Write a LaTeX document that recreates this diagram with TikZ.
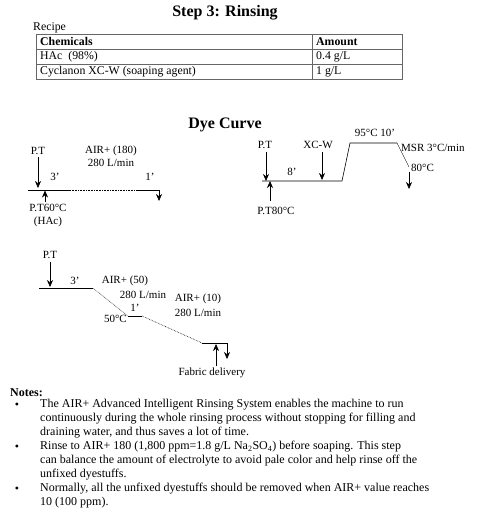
\documentclass[tikz,border=0pt]{standalone}
\usepackage{fontspec}
\setmainfont{Liberation Serif}
\usetikzlibrary{arrows.meta}
\begin{document}
\begin{tikzpicture}[x=1pt,y=-1pt,
  lbl/.style={inner sep=0pt,font=\fontsize{11}{12}\selectfont},
  cell/.style={inner sep=0pt,anchor=west,font=\fontsize{11.8}{12}\selectfont},
  arr/.style={-{Stealth[length=7pt,width=6pt]},line width=0.6pt},
  crv/.style={line width=0.6pt},
  dcrv/.style={line width=0.6pt,densely dotted},
  tline/.style={draw=black!60,line width=0.6pt},
  body/.style={inner sep=0pt,anchor=north west,align=left,font=\fontsize{12}{14}\selectfont},
  bul/.style={inner sep=0pt,font=\fontsize{12}{14}\selectfont}
]
\useasboundingbox (0,0) rectangle (480,527);
% title
\node[inner sep=0pt,font=\fontsize{16}{18}\bfseries] (title) at (225,13) {Step 3: Rinsing};
\node[lbl,anchor=west,font=\fontsize{11.8}{12}\selectfont] (recipe) at (33,28) {Recipe};
% table
\draw[tline] (36,34) rectangle (402,79);
\draw[tline] (36,49) -- (402,49);
\draw[tline] (36,64) -- (402,64);
\draw[tline] (312,34) -- (312,79);
\node[cell,font=\fontsize{11.8}{12}\bfseries] (h1) at (40,41.5) {Chemicals};
\node[cell,font=\fontsize{11.8}{12}\bfseries] (h2) at (316,41.5) {Amount};
\node[cell] (c1) at (40,56.5) {HAc\ \ (98\%)};
\node[cell] (a1) at (316,56.5) {0.4 g/L};
\node[cell] (c2) at (40,71.5) {Cyclanon XC-W (soaping agent)};
\node[cell] (a2) at (316,71.5) {1 g/L};
% Dye curve title
\node[inner sep=0pt,font=\fontsize{16}{18}\bfseries] (dct) at (225,125) {Dye Curve};

% ---- curve 1
\coordinate (p1) at (28,190);
\coordinate (p2) at (70,190);
\coordinate (p3) at (137,190);
\coordinate (p4) at (159,190);
\draw[crv] (p1) -- (p2);
\draw[dcrv] (p2) -- (p3);
\draw[crv] (p3) -- (p4);
\node[lbl] (pt1) at (38,151) {P.T};
\coordinate (pt1e) at (38,188);
\draw[arr] (38,157) -- (pt1e);
\node[lbl] (m3a) at (55,177) {3'};
\node[lbl] (p60) at (48,208) {P.T60°C};
\node[lbl] (hac) at (48,222) {(HAc)};
\coordinate (up1e) at (45,190.5);
\draw[arr] (45,202) -- (up1e);
\node[lbl] (air180) at (111,151) {AIR+ (180)};
\node[lbl] (lm1) at (111,163) {280 L/min};
\node[lbl] (m1a) at (150,177) {1'};
\coordinate (d1e) at (159,201);
\draw[arr] (p4) -- (d1e);

% ---- curve 2
\coordinate (q1) at (262,181);
\coordinate (q2) at (342,181);
\coordinate (q3) at (350,143);
\coordinate (q4) at (397,143);
\coordinate (q5) at (409,167);
\draw[crv] (q1) -- (q2) -- (q3) -- (q4);
\draw[line width=0.4pt] (q4) -- (q5);
\node[lbl] (pt2) at (265,145) {P.T};
\coordinate (pt2e) at (266,181);
\draw[arr] (266,152) -- (pt2e);
\coordinate (up2e) at (270,181);
\draw[arr] (270,201) -- (up2e);
\node[lbl] (p80) at (276,211) {P.T80°C};
\node[lbl] (m8) at (292,172) {8'};
\node[lbl] (xcw) at (318,145) {XC-W};
\coordinate (xcwe) at (322,180);
\draw[arr] (322,152) -- (xcwe);
\node[lbl] (t95) at (375,133) {95°C 10'};
\node[lbl,anchor=west] (msr) at (401,148) {MSR 3°C/min};
\node[lbl,anchor=west] (t80) at (411,168) {80°C};
\coordinate (d2s) at (409,172);
\coordinate (d2e) at (409,189);
\draw[arr] (d2s) -- (d2e);

% ---- curve 3
\coordinate (r1) at (39,288);
\coordinate (r2) at (93,288);
\coordinate (r3) at (128,316);
\coordinate (r4) at (142,316);
\coordinate (r5) at (202,343);
\coordinate (r6) at (227,343);
\coordinate (r7) at (227,359);
\draw[crv] (r1) -- (r2);
\draw[dcrv] (r2) -- (r3);
\draw[crv] (r3) -- (r4);
\draw[dcrv] (r4) -- (r5);
\draw[crv] (r5) -- (r6);
\draw[arr] (r6) -- (r7);
\node[lbl] (pt3) at (50,255) {P.T};
\coordinate (pt3e) at (50,287);
\draw[arr] (50,262) -- (pt3e);
\node[lbl] (m3b) at (75,281) {3'};
\node[lbl] (air50) at (125,281) {AIR+ (50)};
\node[lbl] (lm2) at (143,295) {280 L/min};
\node[lbl] (air10) at (198,299) {AIR+ (10)};
\node[lbl] (lm3) at (198,313) {280 L/min};
\node[lbl,anchor=east] (t50) at (127,319) {50°C};
\node[lbl] (m1b) at (135,308) {1'};
\node[lbl] (fab) at (212,373) {Fabric delivery};
\coordinate (fabe) at (216,344);
\draw[arr] (216,366) -- (fabe);

% ---- notes
\node[inner sep=0pt,anchor=west,font=\fontsize{12}{14}\bfseries] (notes) at (10,393) {Notes:};
\node[bul] (b1) at (17,406) {\textbullet};
\node[bul] (b2) at (17,448) {\textbullet};
\node[bul] (b3) at (17,490) {\textbullet};
\node[body] (n1) at (40,399) {The AIR+ Advanced Intelligent Rinsing System enables the machine to run\\continuously during the whole rinsing process without stopping for filling and\\draining water, and thus saves a lot of time.};
\node[body] (n2) at (40,441) {Rinse to AIR+ 180 (1,800 ppm=1.8 g/L Na\textsubscript{2}SO\textsubscript{4}) before soaping. This step\\can balance the amount of electrolyte to avoid pale color and help rinse off the\\unfixed dyestuffs.};
\node[body] (n3) at (40,483) {Normally, all the unfixed dyestuffs should be removed when AIR+ value reaches\\10 (100 ppm).};
\end{tikzpicture}
\end{document}
